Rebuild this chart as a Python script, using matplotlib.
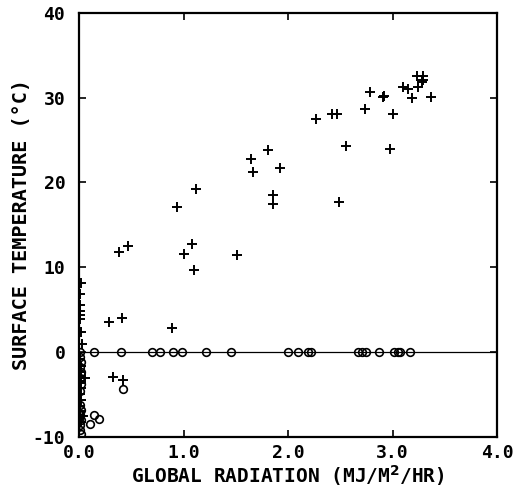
import matplotlib
matplotlib.use('Agg')
import matplotlib.pyplot as plt

# plus markers (surface temperature)
plus_x = [0.02, 0.01, 0.01, 0.01, 0.01, 0.01, 0.02, 0.03, 0.01, 0.02, 0.01, 0.02, 0.06, 0.01, 0.02,
          0.01, 0.02, 0.01, 0.04, 0.01, 0.02,
          0.29, 0.41, 0.38, 0.47, 0.32, 0.42, 0.89,
          1.00, 1.08, 1.10, 1.51, 0.94, 1.12,
          1.64, 1.66, 1.81, 1.92, 1.86, 1.86, 2.27,
          2.42, 2.47, 2.55, 2.49, 2.74, 2.78, 2.91, 2.92, 3.00, 2.98,
          3.10, 3.15, 3.19, 3.23, 3.29, 3.24, 3.29, 3.37, 3.28]
plus_y = [8.2, 6.9, 5.5, 4.9, 4.4, 3.9, 2.4, 1.0, -0.8, -1.6, -2.4, -3.0, -3.1, -3.6, -4.2,
          -5.0, -5.6, -6.3, -7.5, -7.0, -8.2,
          3.6, 4.0, 11.8, 12.5, -2.9, -3.3, 2.8,
          11.6, 12.8, 9.7, 11.4, 17.1, 19.2,
          22.8, 21.2, 23.8, 21.7, 18.5, 17.5, 27.5,
          28.1, 28.1, 24.3, 17.7, 28.7, 30.7, 30.1, 30.2, 28.1, 23.9,
          31.2, 31.0, 30.0, 32.5, 32.5, 31.3, 32.1, 30.1, 31.8]

# circle markers
circ_x = [0.01, 0.01, 0.02, 0.01, 0.02, 0.01, 0.02, 0.01, 0.01, 0.02, 0.01, 0.02, 0.01, 0.01, 0.02,
          0.14, 0.40, 0.42, 0.10, 0.14, 0.19,
          0.70, 0.77, 0.90, 0.98, 1.21, 1.45, 2.00, 2.09, 2.19, 2.22,
          2.67, 2.71, 2.75, 2.87, 3.01, 3.05, 3.07, 3.17]
circ_y = [0.0, -0.6, -1.2, -1.8, -2.4, -3.0, -3.8, -4.6, -6.2, -6.8, -7.4, -8.0, -8.6, -9.2, -9.6,
          0.0, 0.0, -4.4, -8.5, -7.4, -7.9,
          0.0, 0.0, 0.0, 0.0, 0.0, 0.0, 0.0, 0.0, 0.0, 0.0,
          0.0, 0.0, 0.0, 0.0, 0.0, 0.0, 0.0, 0.0]

x_ticks = [0.0, 1.0, 2.0, 3.0, 4.0]
y_ticks = [-10, 0, 10, 20, 30, 40]

plt.rcParams['font.family'] = ['DejaVu Sans Mono']
plt.rcParams['font.weight'] = 'bold'

fig = plt.figure(figsize=(5.21, 4.92), dpi=100)
ax = fig.add_axes([0.152, 0.112, 0.802, 0.862])

ax.axhline(0, color='black', lw=0.9, zorder=1)
ax.plot(plus_x, plus_y, linestyle='none', marker='+', markersize=7, mew=1.4, color='black')
ax.plot(circ_x, circ_y, linestyle='none', marker='o', markersize=5.5, mew=1.2,
        markerfacecolor='none', markeredgecolor='black')

ax.set_xlim(0, 4)
ax.set_ylim(-10, 40)
ax.set_xticks(x_ticks)
ax.set_xticklabels(['%.1f' % v for v in x_ticks])
ax.set_yticks(y_ticks)
ax.set_yticklabels([str(v) for v in y_ticks])
ax.tick_params(direction='in', length=5, width=1.2, labelsize=13, top=True, right=True)
ax.tick_params(axis='y', pad=10)
ax.tick_params(axis='x', pad=5)
for s in ax.spines.values():
    s.set_linewidth(1.6)

ax.set_xlabel('GLOBAL RADIATION (MJ/M$^{\\mathbf{2}}$/HR)', fontsize=14, fontweight='bold', labelpad=1)
ax.set_ylabel('SURFACE TEMPERATURE (°C)', fontsize=14.5, fontweight='bold', labelpad=1)

fig.savefig('out.png', dpi=100)
